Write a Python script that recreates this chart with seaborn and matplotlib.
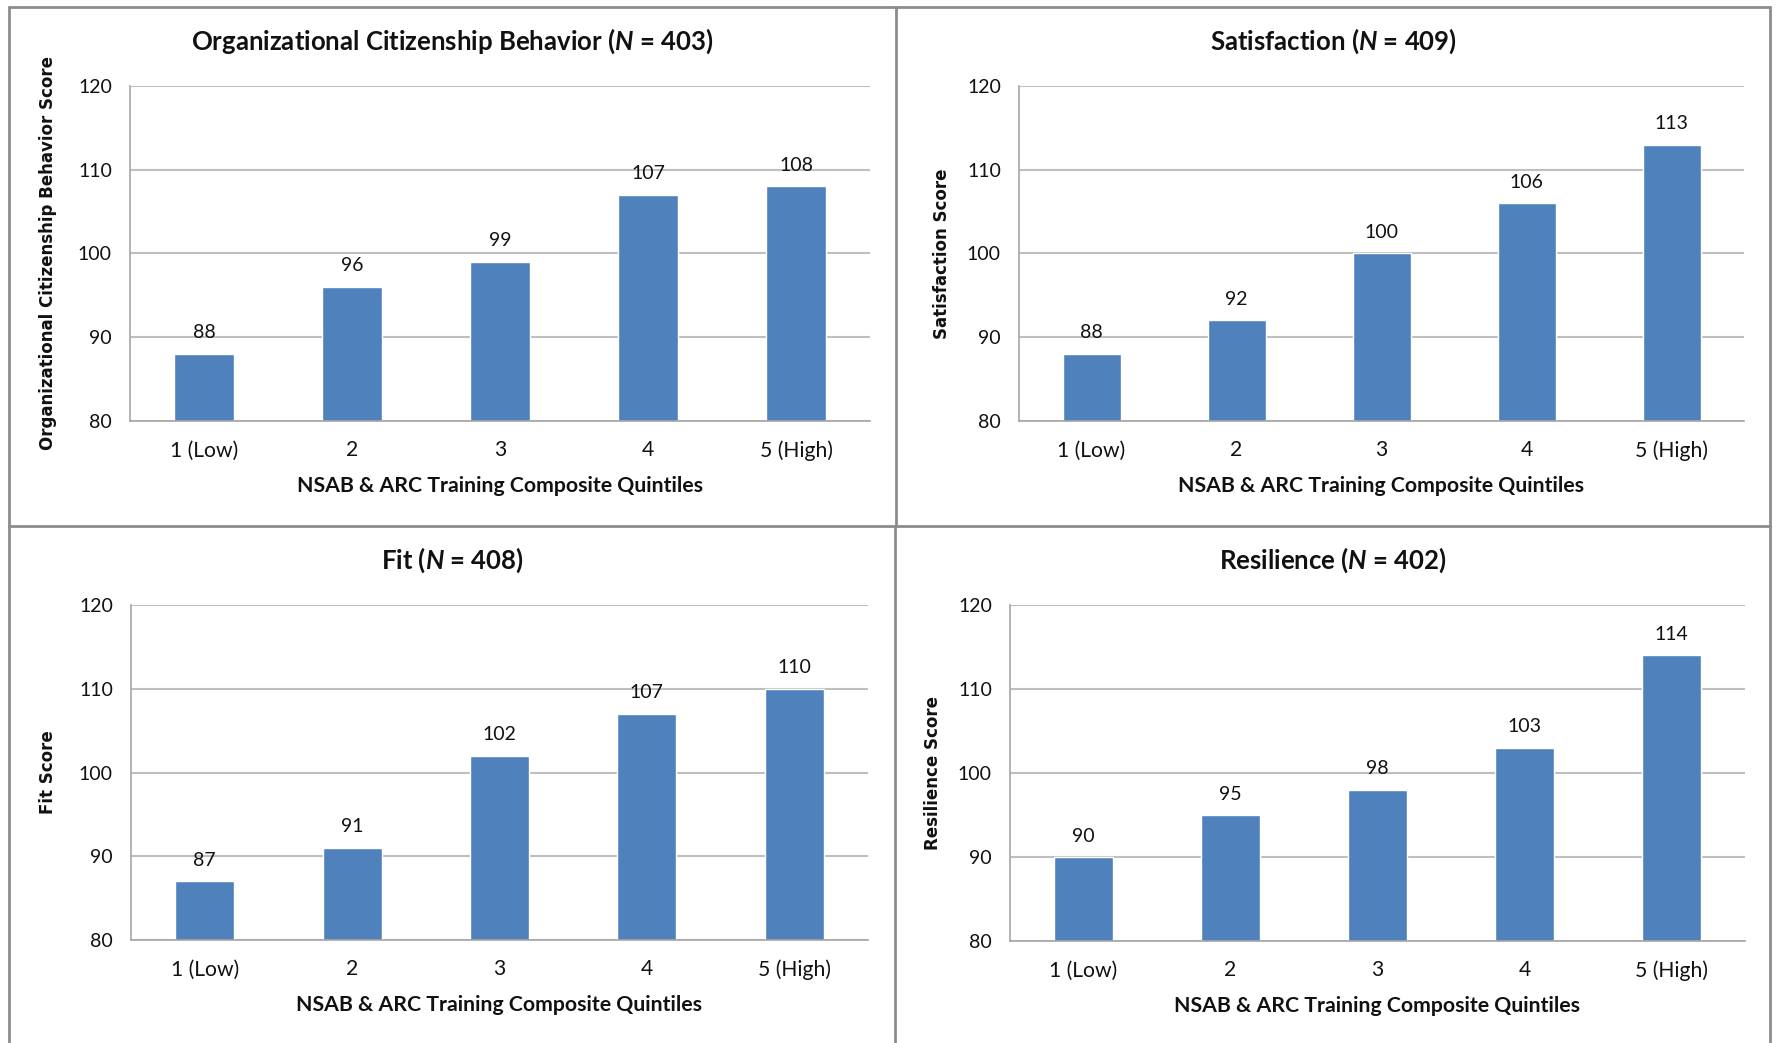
import matplotlib
matplotlib.use("Agg")
import matplotlib.pyplot as plt
from matplotlib.lines import Line2D
import seaborn as sns
import pandas as pd

# Quintile categories shared by every panel
quintiles = ["1 (Low)", "2", "3", "4", "5 (High)"]

# Mean scores per quintile
ocb_scores = [88, 96, 99, 107, 108]
satisfaction_scores = [88, 92, 100, 106, 113]
fit_scores = [87, 91, 102, 107, 110]
resilience_scores = [90, 95, 98, 103, 114]

# Panel titles, sample sizes and y-axis labels
panel_names = ["Organizational Citizenship Behavior", "Satisfaction", "Fit", "Resilience"]
panel_n = [403, 409, 408, 402]
y_labels = ["Organizational Citizenship Behavior Score", "Satisfaction Score",
            "Fit Score", "Resilience Score"]
x_label = "NSAB & ARC Training Composite Quintiles"
y_ticks = [80, 90, 100, 110, 120]

sns.set_theme(style="white")
plt.rcParams["font.family"] = ["Lato", "DejaVu Sans"]
plt.rcParams["mathtext.fontset"] = "custom"
plt.rcParams["mathtext.bfit"] = "Lato:italic:bold"
plt.rcParams["mathtext.it"] = "Lato:italic"
plt.rcParams["mathtext.rm"] = "Lato"

W, H = 1777, 1043
fig = plt.figure(figsize=(W / 100, H / 100), dpi=100)
fig.patch.set_facecolor("white")

# axes boxes in pixels: left, top, right, bottom
boxes = [(130, 86, 870, 421), (1019, 86, 1744, 421),
         (131, 605, 868, 940), (1010, 605, 1745, 941)]
# panel frames in pixels: left, top, right, bottom
frames = [(9, 7, 896, 526), (896, 7, 1770, 526),
          (9, 526, 895, 1043), (895, 526, 1770, 1043)]
ylabel_x = [48, 942, 48, 933]

bar_color = "#4F81BD"
grid_color = "#BFBFBF"
axis_color = "#A6A6A6"
text_color = "#111111"

all_scores = [ocb_scores, satisfaction_scores, fit_scores, resilience_scores]

for i, scores in enumerate(all_scores):
    l, t, r, b = boxes[i]
    ax = fig.add_axes([l / W, 1 - b / H, (r - l) / W, (b - t) / H])
    df = pd.DataFrame({"quintile": quintiles, "score": scores})
    sns.barplot(data=df, x="quintile", y="score", color=bar_color,
                width=0.4, saturation=1, ax=ax, zorder=3)
    ax.set_ylim(80, 120)
    ax.set_xlim(-0.5, 4.5)
    ax.set_yticks(y_ticks)
    ax.set_yticklabels([str(v) for v in y_ticks], fontsize=14, color=text_color)
    ax.set_xticks(range(len(quintiles)))
    ax.set_xticklabels(quintiles, fontsize=15.2, color=text_color)
    ax.set_xticks([k - 0.5 for k in range(len(quintiles) + 1)], minor=True)
    ax.tick_params(axis="x", which="major", length=0, pad=14)
    ax.tick_params(axis="x", which="minor", length=7, width=1.2,
                   color=axis_color, direction="out")
    ax.tick_params(axis="y", which="major", length=7, width=1.2,
                   color=axis_color, direction="out", pad=6)
    ax.yaxis.grid(True, color=grid_color, linewidth=1.5, zorder=0)
    ax.xaxis.grid(False)
    ax.set_axisbelow(True)
    for side in ["top", "right"]:
        ax.spines[side].set_visible(False)
    for side in ["left", "bottom"]:
        ax.spines[side].set_color(axis_color)
        ax.spines[side].set_linewidth(1.2)
        ax.spines[side].set_zorder(4)
    ax.set_xlabel(x_label, fontsize=15.3, fontweight="bold", color=text_color,
                  labelpad=11)
    ax.set_ylabel("")
    for container in ax.containers:
        ax.bar_label(container, labels=[str(v) for v in scores], padding=9,
                     fontsize=14, color=text_color)

    # rotated y-axis label
    fig.text(ylabel_x[i] / W, 1 - ((t + b) / 2) / H, y_labels[i], rotation=90,
             ha="center", va="center", fontsize=12, fontweight="bold",
             family="DejaVu Sans", color=text_color)

    # panel title with italic N
    fl, ft, fr, fb = frames[i]
    title_y = 41 if i < 2 else 560
    fig.text(((fl + fr) / 2) / W, 1 - title_y / H,
             panel_names[i] + r" ($\mathbfit{N}$ = " + f"{panel_n[i]})",
             ha="center", va="center", fontsize=18.5, fontweight="bold",
             color=text_color)

# panel frames
frame_color = "#8C8C8C"
def hline(y, x0, x1):
    fig.add_artist(Line2D([x0 / W, x1 / W], [1 - y / H, 1 - y / H],
                          color=frame_color, linewidth=2))
def vline(x, y0, y1):
    fig.add_artist(Line2D([x / W, x / W], [1 - y0 / H, 1 - y1 / H],
                          color=frame_color, linewidth=2))

hline(7, 9, 1770)
hline(526, 9, 1770)
vline(9, 7, 1043)
vline(1770, 7, 1043)
vline(896, 7, 526)
vline(895, 526, 1043)

fig.savefig("out.png", dpi=100, facecolor="white")
